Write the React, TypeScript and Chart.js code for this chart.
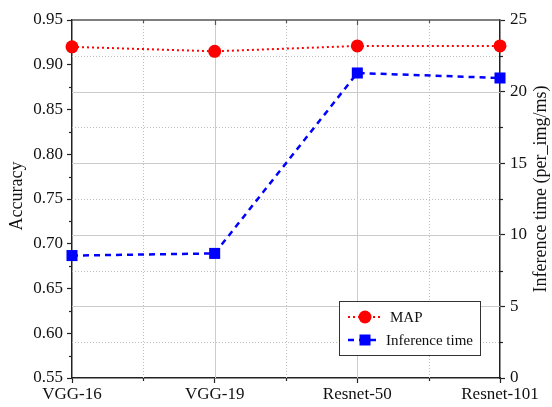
import React, { useEffect, useRef } from "react";
import { Chart, registerables } from "chart.js";

Chart.register(...registerables);

const categories = ["VGG-16", "VGG-19", "Resnet-50", "Resnet-101"];
const mapValues = [0.92, 0.915, 0.921, 0.921];
const inferenceValues = [8.55, 8.7, 21.3, 20.95];
const accuracyTicks = [0.55, 0.95, 0.05];
const timeTicks = [0, 25, 5];
const leftTitle = "Accuracy";
const rightTitle = "Inference time (per_img/ms)";

const FONT = "'Liberation Serif', 'DejaVu Serif', serif";

const extras = {
  id: "extras",
  beforeDatasetsDraw(chart: any) {
    const { ctx, chartArea: a } = chart;
    const y1 = chart.scales.y1;
    const x = chart.scales.x;
    ctx.save();
    // horizontal grid from right axis
    for (let v = timeTicks[0] + timeTicks[2] / 2; v < timeTicks[1] - 1e-6; v += timeTicks[2] / 2) {
      const py = Math.round(y1.getPixelForValue(v)) + 0.5;
      const major = Math.abs(v / timeTicks[2] - Math.round(v / timeTicks[2])) < 1e-6;
      ctx.beginPath();
      ctx.strokeStyle = major ? "#cccccc" : "#bdbdbd";
      ctx.lineWidth = 1;
      ctx.setLineDash(major ? [] : [1, 2]);
      ctx.moveTo(a.left, py);
      ctx.lineTo(a.right, py);
      ctx.stroke();
    }
    // vertical grid
    for (let i = 0.5; i < categories.length - 1; i += 0.5) {
      const px = Math.round(x.getPixelForValue(i)) + 0.5;
      const major = Number.isInteger(i);
      ctx.beginPath();
      ctx.strokeStyle = major ? "#cccccc" : "#bdbdbd";
      ctx.lineWidth = 1;
      ctx.setLineDash(major ? [] : [1, 2]);
      ctx.moveTo(px, a.top);
      ctx.lineTo(px, a.bottom);
      ctx.stroke();
    }
    ctx.setLineDash([]);
    // top border
    ctx.strokeStyle = "#555555";
    ctx.lineWidth = 1.5;
    ctx.beginPath();
    ctx.moveTo(a.left, a.top);
    ctx.lineTo(a.right, a.top);
    ctx.stroke();
    // minor ticks
    ctx.strokeStyle = "#222222";
    ctx.lineWidth = 1.2;
    const y = chart.scales.y;
    for (let v = accuracyTicks[0] + accuracyTicks[2] / 2; v < accuracyTicks[1]; v += accuracyTicks[2]) {
      const py = Math.round(y.getPixelForValue(v)) + 0.5;
      ctx.beginPath();
      ctx.moveTo(a.left - 3, py);
      ctx.lineTo(a.left, py);
      ctx.stroke();
    }
    for (let v = timeTicks[0] + timeTicks[2] / 2; v < timeTicks[1]; v += timeTicks[2]) {
      const py = Math.round(y1.getPixelForValue(v)) + 0.5;
      ctx.beginPath();
      ctx.moveTo(a.right, py);
      ctx.lineTo(a.right + 3, py);
      ctx.stroke();
    }
    for (let i = 0.5; i < categories.length - 1; i += 1) {
      const px = Math.round(x.getPixelForValue(i)) + 0.5;
      ctx.strokeStyle = "#222222";
      ctx.beginPath();
      ctx.moveTo(px, a.bottom);
      ctx.lineTo(px, a.bottom + 3);
      ctx.stroke();
      ctx.strokeStyle = "#555555";
      ctx.beginPath();
      ctx.moveTo(px, a.top);
      ctx.lineTo(px, a.top + 3);
      ctx.stroke();
    }
    for (let i = 1; i < categories.length - 1; i += 1) {
      const px = Math.round(x.getPixelForValue(i)) + 0.5;
      ctx.strokeStyle = "#555555";
      ctx.beginPath();
      ctx.moveTo(px, a.top);
      ctx.lineTo(px, a.top + 5);
      ctx.stroke();
    }
    // axis titles (both read bottom-to-top)
    ctx.fillStyle = "#111111";
    ctx.font = "18px " + FONT;
    ctx.textAlign = "center";
    ctx.textBaseline = "middle";
    ctx.save();
    ctx.translate(17, (a.top + a.bottom) / 2 - 3);
    ctx.rotate(-Math.PI / 2);
    ctx.fillText(leftTitle, 0, 0);
    ctx.restore();
    ctx.save();
    ctx.translate(541, (a.top + a.bottom) / 2 - 10);
    ctx.rotate(-Math.PI / 2);
    ctx.fillText(rightTitle, 0, 0);
    ctx.restore();
    ctx.restore();
  },
  afterDraw(chart: any) {
    const { ctx } = chart;
    ctx.save();
    const bx = 339, by = 301, bw = 141, bh = 54;
    ctx.fillStyle = "#ffffff";
    ctx.fillRect(bx, by, bw, bh);
    ctx.strokeStyle = "#333333";
    ctx.lineWidth = 1;
    ctx.strokeRect(bx + 0.5, by + 0.5, bw, bh);
    const ds = chart.data.datasets;
    const rows = [317, 340];
    ds.forEach((d: any, i: number) => {
      const cy = rows[i];
      ctx.strokeStyle = d.borderColor;
      ctx.lineWidth = d.borderWidth;
      ctx.setLineDash(d.borderDash);
      ctx.beginPath();
      ctx.moveTo(348, cy);
      ctx.lineTo(381, cy);
      ctx.stroke();
      ctx.setLineDash([]);
      ctx.fillStyle = d.backgroundColor;
      ctx.beginPath();
      if (d.pointStyle === "circle") {
        ctx.arc(365, cy, 6.5, 0, Math.PI * 2);
      } else {
        ctx.rect(359.5, cy - 5.5, 11, 11);
      }
      ctx.fill();
      ctx.fillStyle = "#111111";
      ctx.font = "15px " + FONT;
      ctx.textBaseline = "middle";
      ctx.textAlign = "left";
      ctx.fillText(d.label, i === 0 ? 390 : 386, cy + 1);
    });
    ctx.restore();
  },
};

export default function App() {
  const ref = useRef<HTMLCanvasElement | null>(null);
  useEffect(() => {
    if (!ref.current) return;
    const chart = new Chart(ref.current, {
      type: "line",
      data: {
        labels: categories,
        datasets: [
          {
            label: "MAP",
            data: mapValues,
            yAxisID: "y",
            borderColor: "#ff0000",
            backgroundColor: "#ff0000",
            borderWidth: 2,
            borderDash: [2, 3],
            pointStyle: "circle",
            pointRadius: 6.5,
            pointHoverRadius: 6.5,
            pointBorderWidth: 0,
            clip: false,
          } as any,
          {
            label: "Inference time",
            data: inferenceValues,
            yAxisID: "y1",
            borderColor: "#0000ff",
            backgroundColor: "#0000ff",
            borderWidth: 2.5,
            borderDash: [6, 5],
            pointStyle: "rect",
            pointRadius: 7.8,
            pointHoverRadius: 7.8,
            pointBorderWidth: 0,
            clip: false,
          } as any,
        ],
      },
      options: {
        animation: false,
        responsive: true,
        maintainAspectRatio: false,
        layout: { padding: { top: 20, left: 0, right: 0, bottom: 0 } },
        plugins: { legend: { display: false }, tooltip: { enabled: false } },
        scales: {
          x: {
            type: "category",
            offset: false,
            grid: { drawOnChartArea: false, tickLength: 5, tickColor: "#222", tickWidth: 1.2 },
            border: { color: "#222", width: 1.5 },
            ticks: { color: "#111", font: { family: FONT, size: 17 }, padding: 1, maxRotation: 0, autoSkip: false },
            afterFit: (s: any) => { s.height = 29; },
          },
          y: {
            position: "left",
            min: accuracyTicks[0],
            max: accuracyTicks[1],
            grid: { drawOnChartArea: false, tickLength: 5, tickColor: "#222", tickWidth: 1.2 },
            border: { color: "#222", width: 1.5 },
            ticks: {
              stepSize: accuracyTicks[2],
              color: "#111",
              font: { family: FONT, size: 17 },
              padding: 4,
              callback: (v: any) => Number(v).toFixed(2),
            },
            afterFit: (s: any) => { s.width = 72; },
          },
          y1: {
            position: "right",
            min: timeTicks[0],
            max: timeTicks[1],
            grid: { drawOnChartArea: false, tickLength: 5, tickColor: "#222", tickWidth: 1.2 },
            border: { color: "#222", width: 1.5 },
            ticks: { stepSize: timeTicks[2], color: "#111", font: { family: FONT, size: 17 }, padding: 5 },
            afterFit: (s: any) => { s.width = 52; },
          },
        },
      },
      plugins: [extras],
    });
    return () => chart.destroy();
  }, []);
  return (
    <div style={{ position: "fixed", left: 0, top: 0, width: 552, height: 407, background: "#fff" }}>
      <canvas ref={ref} />
    </div>
  );
}
